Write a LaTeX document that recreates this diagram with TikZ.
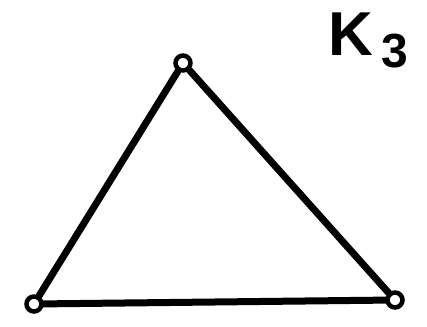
\documentclass[tikz,border=0pt]{standalone}
\usepackage{fontspec}
\setmainfont{Liberation Sans}
\usetikzlibrary{positioning}

\begin{document}
\begin{tikzpicture}[
  x=1pt, y=-1pt,
  vertex/.style={circle, draw, line width=4.5pt, minimum size=15pt, inner sep=0pt},
  edge/.style={line width=7pt, line cap=round, line join=round}
]
\useasboundingbox (0,0) rectangle (427,326);
\node[vertex] (top) at (183,63) {};
\node[vertex] (left) at (34,304) {};
\node[vertex] (right) at (395,300) {};
\draw[edge] (top) -- (left);
\draw[edge] (left) -- (right);
\draw[edge] (right) -- (top);
% label
\node[font=\fontsize{62}{62}\selectfont\bfseries, inner sep=0pt] (name) at (368,40)
  {K\hspace{8pt}\raisebox{-12pt}{\fontsize{48}{48}\selectfont 3}};
\end{tikzpicture}
\end{document}
